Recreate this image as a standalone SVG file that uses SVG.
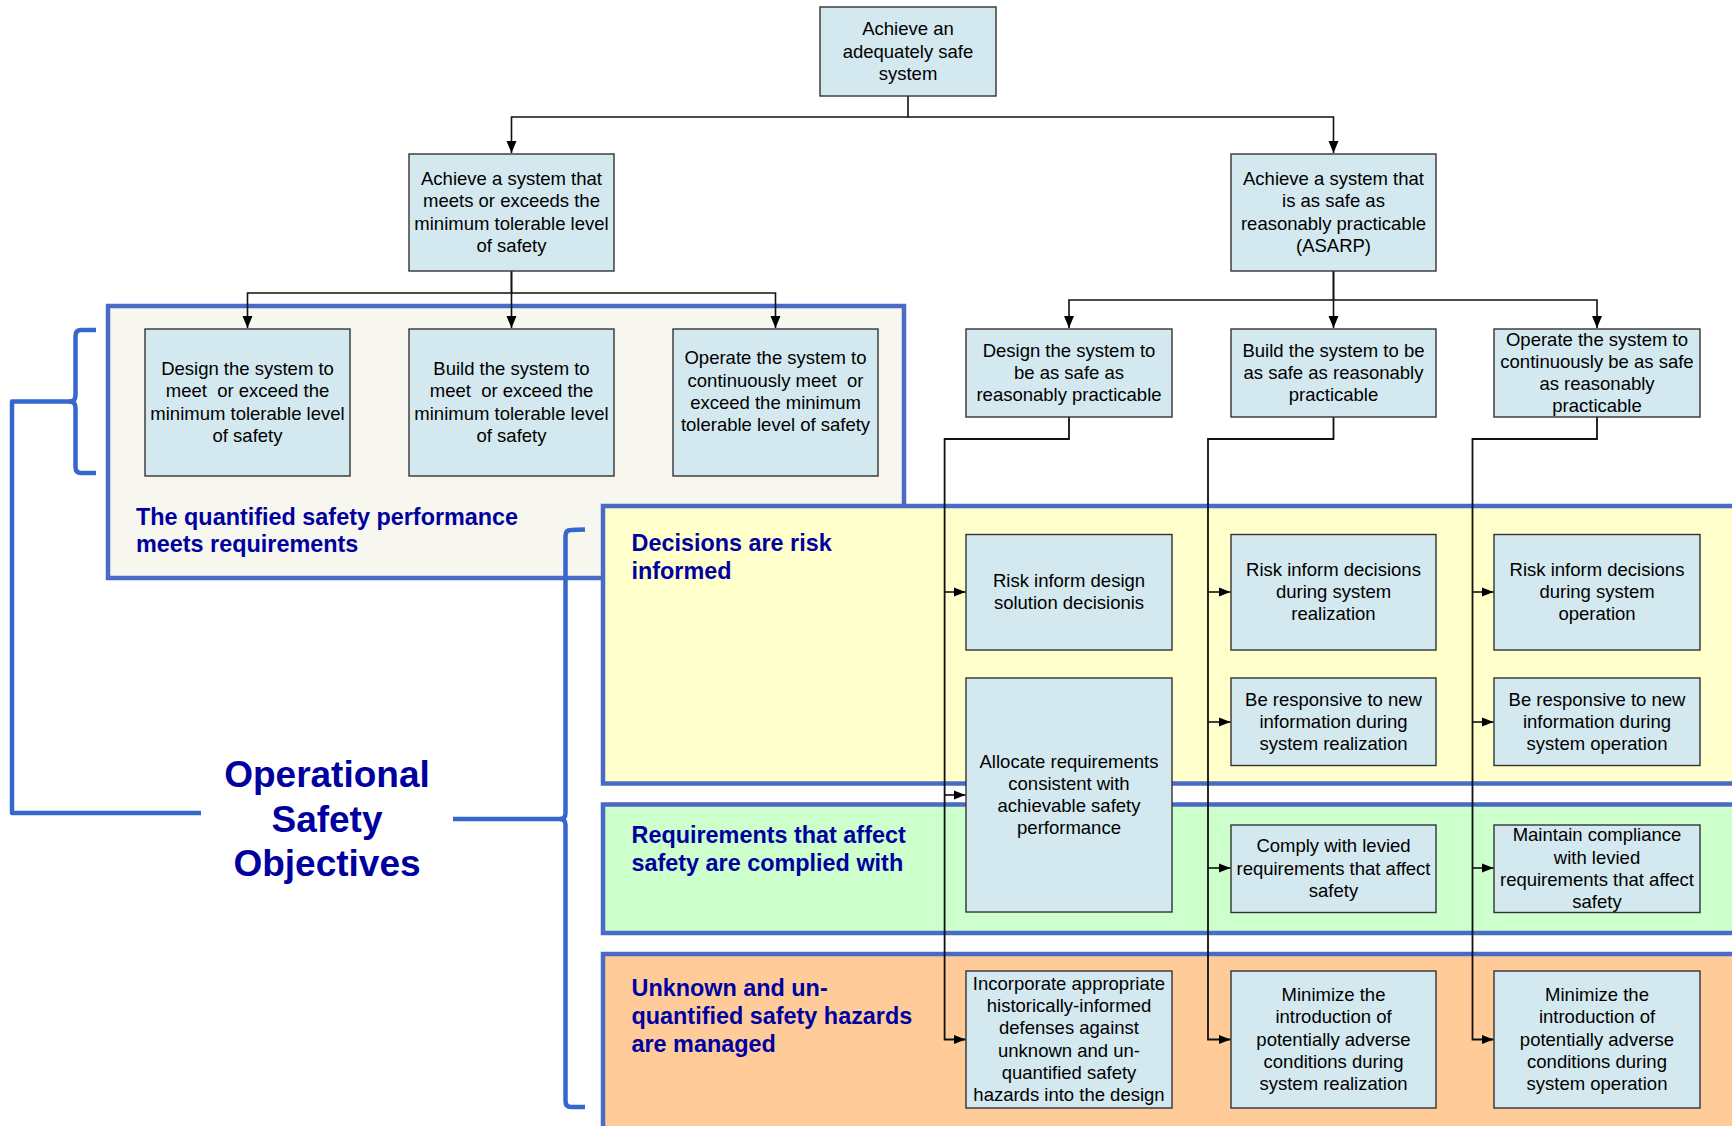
<svg xmlns="http://www.w3.org/2000/svg" width="1732" height="1126" viewBox="0 0 1732 1126">
<style>
.node rect{fill:#d3e9ef;stroke:#333;stroke-width:1.4}
.node text{font-family:"Liberation Sans",Arial,sans-serif;font-size:18.5px;fill:#000;text-anchor:middle}
.hd{font-family:"Liberation Sans",Arial,sans-serif;font-size:23.4px;font-weight:bold;fill:#0000a0}
.big{font-family:"Liberation Sans",Arial,sans-serif;font-size:37px;font-weight:bold;fill:#0000a0;text-anchor:middle}
.region{stroke:#4a6bc5;stroke-width:4.5}
.brk{fill:none;stroke:#3567cf;stroke-width:4.5;stroke-linejoin:round;stroke-linecap:butt}
.c{fill:none;stroke:#111;stroke-width:1.6}
.cs{fill:none;stroke:#111;stroke-width:1.8}
</style>
<defs>
<marker id="ah" markerUnits="userSpaceOnUse" markerWidth="13" markerHeight="13" viewBox="0 0 13 13" refX="12" refY="6.5" orient="auto">
<path d="M0,1.5 L12,6.5 L0,11.5 Z" fill="#000"/>
</marker>
<marker id="ab" markerUnits="userSpaceOnUse" markerWidth="13" markerHeight="13" viewBox="0 0 13 13" refX="12" refY="6.5" orient="auto">
<path d="M0,1.8 L12,6.5 L0,11.2 Z" fill="#000"/>
</marker>
</defs>
<rect width="1732" height="1126" fill="#fff"/>

<g id="regions">
<rect id="quantified" class="region" x="108" y="306" width="796" height="272" fill="#f7f7ef"/>
<rect id="decisions" class="region" x="603" y="506" width="1200" height="277.5" fill="#ffffcc"/>
<rect id="requirements" class="region" x="603" y="804.5" width="1200" height="128.5" fill="#ccffcc"/>
<rect id="unknown" class="region" x="603" y="954" width="1200" height="220" fill="#ffcc99"/>
</g>

<g id="brackets">
<path class="brk" d="M96,330 L81,330 Q75.5,330 75.5,336 L75.5,395 Q75.5,401.5 70,401.5 Q75.5,401.5 75.5,408 L75.5,467 Q75.5,473 81,473 L96,473"/>
<path class="brk" d="M71,401.5 H12 V813 H201"/>
<path class="brk" d="M585,529.5 L571,530 Q565.5,530 565.5,536 L565.5,813 Q565.5,819 560,819 Q565.5,819 565.5,825 L565.5,1101 Q565.5,1107 571,1107 L585,1107"/>
<path class="brk" d="M453,819 H561"/>
</g>

<g id="labels">
<text class="hd" x="136" y="524.5">The quantified safety performance</text>
<text class="hd" x="136" y="552">meets requirements</text>
<text class="hd" x="631.5" y="551">Decisions are risk</text>
<text class="hd" x="631.5" y="579">informed</text>
<text class="hd" x="631.5" y="842.6">Requirements that affect</text>
<text class="hd" x="631.5" y="870.6">safety are complied with</text>
<text class="hd" x="631.5" y="996">Unknown and un-</text>
<text class="hd" x="631.5" y="1024">quantified safety hazards</text>
<text class="hd" x="631.5" y="1052">are managed</text>
<text class="big" x="327" y="787">Operational</text>
<text class="big" x="327" y="832">Safety</text>
<text class="big" x="327" y="876">Objectives</text>
</g>

<g id="connectors">
<path class="c" d="M908,96 V117 H511.5 V153" marker-end="url(#ah)"/>
<path class="c" d="M908,117 H1333.5 V153" marker-end="url(#ah)"/>
<path class="c" d="M511.5,271 V293 H247.5 V328" marker-end="url(#ah)"/>
<path class="c" d="M511.5,271 V328" marker-end="url(#ah)"/>
<path class="c" d="M511.5,293 H775.5 V328" marker-end="url(#ah)"/>
<path class="c" d="M1333.5,271 V300 H1069 V328" marker-end="url(#ah)"/>
<path class="c" d="M1333.5,271 V328" marker-end="url(#ah)"/>
<path class="c" d="M1333.5,300 H1597 V328" marker-end="url(#ah)"/>
<path class="cs" d="M1069,417 V439 H944.6 V1039.5 H965.5" marker-end="url(#ab)"/>
<path class="c" d="M944.6,592 H965.5" marker-end="url(#ab)"/>
<path class="c" d="M944.6,795 H965.5" marker-end="url(#ab)"/>
<path class="cs" d="M1333.5,417 V439 H1208 V1039.5 H1230.5" marker-end="url(#ab)"/>
<path class="c" d="M1208,592 H1230.5" marker-end="url(#ab)"/>
<path class="c" d="M1208,722 H1230.5" marker-end="url(#ab)"/>
<path class="c" d="M1208,868 H1230.5" marker-end="url(#ab)"/>
<path class="cs" d="M1597,417 V439 H1472.5 V1039.5 H1493.5" marker-end="url(#ab)"/>
<path class="c" d="M1472.5,592 H1493.5" marker-end="url(#ab)"/>
<path class="c" d="M1472.5,722 H1493.5" marker-end="url(#ab)"/>
<path class="c" d="M1472.5,868 H1493.5" marker-end="url(#ab)"/>
</g>

<g id="n-top" class="node"><rect x="820" y="7" width="176" height="89"/>
<text x="908" y="35.2">Achieve an</text><text x="908" y="57.5">adequately safe</text><text x="908" y="79.8">system</text></g>

<g id="n-min" class="node"><rect x="409" y="154" width="205" height="117"/>
<text x="511.5" y="185">Achieve a system that</text><text x="511.5" y="207.4">meets or exceeds the</text><text x="511.5" y="229.7">minimum tolerable level</text><text x="511.5" y="252">of safety</text></g>

<g id="n-asarp" class="node"><rect x="1231" y="154" width="205" height="117"/>
<text x="1333.5" y="185">Achieve a system that</text><text x="1333.5" y="207.4">is as safe as</text><text x="1333.5" y="229.7">reasonably practicable</text><text x="1333.5" y="252">(ASARP)</text></g>

<g id="n-design-min" class="node"><rect x="145" y="329" width="205" height="147"/>
<text x="247.5" y="375">Design the system to</text><text x="247.5" y="397.3">meet&#160; or exceed the</text><text x="247.5" y="419.6">minimum tolerable level</text><text x="247.5" y="442">of safety</text></g>

<g id="n-build-min" class="node"><rect x="409" y="329" width="205" height="147"/>
<text x="511.5" y="375">Build the system to</text><text x="511.5" y="397.3">meet&#160; or exceed the</text><text x="511.5" y="419.6">minimum tolerable level</text><text x="511.5" y="442">of safety</text></g>

<g id="n-operate-min" class="node"><rect x="673" y="329" width="205" height="147"/>
<text x="775.5" y="364.3">Operate the system to</text><text x="775.5" y="386.5">continuously meet&#160; or</text><text x="775.5" y="408.8">exceed the minimum</text><text x="775.5" y="431">tolerable level of safety</text></g>

<g id="n-design-asarp" class="node"><rect x="966" y="329" width="206" height="88"/>
<text x="1069" y="356.7">Design the system to</text><text x="1069" y="379">be as safe as</text><text x="1069" y="401.3">reasonably practicable</text></g>

<g id="n-build-asarp" class="node"><rect x="1231" y="329" width="205" height="88"/>
<text x="1333.5" y="356.7">Build the system to be</text><text x="1333.5" y="379">as safe as reasonably</text><text x="1333.5" y="401.3">practicable</text></g>

<g id="n-operate-asarp" class="node"><rect x="1494" y="329" width="206" height="88"/>
<text x="1597" y="345.5">Operate the system to</text><text x="1597" y="367.8">continuously be as safe</text><text x="1597" y="390.1">as reasonably</text><text x="1597" y="412.4">practicable</text></g>

<g id="n-risk-design" class="node"><rect x="966" y="534.5" width="206" height="115.5"/>
<text x="1069" y="586.8">Risk inform design</text><text x="1069" y="609.1">solution decisionis</text></g>

<g id="n-risk-real" class="node"><rect x="1231" y="534.5" width="205" height="115.5"/>
<text x="1333.5" y="575.7">Risk inform decisions</text><text x="1333.5" y="598">during system</text><text x="1333.5" y="620.3">realization</text></g>

<g id="n-risk-op" class="node"><rect x="1494" y="534.5" width="206" height="115.5"/>
<text x="1597" y="575.7">Risk inform decisions</text><text x="1597" y="598">during system</text><text x="1597" y="620.3">operation</text></g>

<g id="n-allocate" class="node"><rect x="966" y="678" width="206" height="234"/>
<text x="1069" y="767.5">Allocate requirements</text><text x="1069" y="789.8">consistent with</text><text x="1069" y="812.1">achievable safety</text><text x="1069" y="834.4">performance</text></g>

<g id="n-resp-real" class="node"><rect x="1231" y="678" width="205" height="87.5"/>
<text x="1333.5" y="705.5">Be responsive to new</text><text x="1333.5" y="727.8">information during</text><text x="1333.5" y="750.1">system realization</text></g>

<g id="n-resp-op" class="node"><rect x="1494" y="678" width="206" height="87.5"/>
<text x="1597" y="705.5">Be responsive to new</text><text x="1597" y="727.8">information during</text><text x="1597" y="750.1">system operation</text></g>

<g id="n-comply" class="node"><rect x="1231" y="825" width="205" height="87.5"/>
<text x="1333.5" y="852.4">Comply with levied</text><text x="1333.5" y="874.7">requirements that affect</text><text x="1333.5" y="897">safety</text></g>

<g id="n-maintain" class="node"><rect x="1494" y="825" width="206" height="87.5"/>
<text x="1597" y="841.3">Maintain compliance</text><text x="1597" y="863.6">with levied</text><text x="1597" y="885.9">requirements that affect</text><text x="1597" y="908.2">safety</text></g>

<g id="n-incorporate" class="node"><rect x="966" y="971" width="206" height="137"/>
<text x="1069" y="989.8">Incorporate appropriate</text><text x="1069" y="1012.1">historically-informed</text><text x="1069" y="1034.4">defenses against</text><text x="1069" y="1056.7">unknown and un-</text><text x="1069" y="1079">quantified safety</text><text x="1069" y="1101.3">hazards into the design</text></g>

<g id="n-min-real" class="node"><rect x="1231" y="971" width="205" height="137"/>
<text x="1333.5" y="1001">Minimize the</text><text x="1333.5" y="1023.3">introduction of</text><text x="1333.5" y="1045.6">potentially adverse</text><text x="1333.5" y="1067.9">conditions during</text><text x="1333.5" y="1090.2">system realization</text></g>

<g id="n-min-op" class="node"><rect x="1494" y="971" width="206" height="137"/>
<text x="1597" y="1001">Minimize the</text><text x="1597" y="1023.3">introduction of</text><text x="1597" y="1045.6">potentially adverse</text><text x="1597" y="1067.9">conditions during</text><text x="1597" y="1090.2">system operation</text></g>
</svg>
